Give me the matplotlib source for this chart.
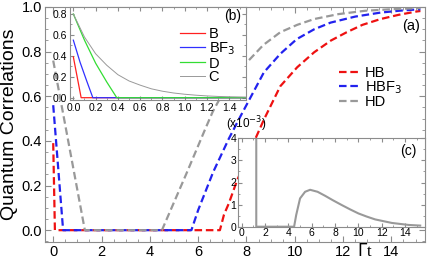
import numpy as np
import matplotlib
matplotlib.use('Agg')
from matplotlib import pyplot as plt
from matplotlib.ticker import MultipleLocator

plt.rcParams['font.family'] = ['Liberation Sans', 'DejaVu Sans']

# main panel (a)
hb_x = [0, 0.07, 6.9, 7.07, 7.27, 7.6, 8.0, 8.72, 9.4, 10.1, 10.8, 11.5, 12.15, 12.8, 13.55, 14.3, 15.05, 15.2]
hb_y = [0.39, 0, 0, 0.07, 0.12, 0.22, 0.32, 0.495, 0.645, 0.73, 0.797, 0.85, 0.887, 0.92, 0.946, 0.965, 0.98, 0.982]
hbf3_x = [0, 0.41, 5.72, 6.0, 6.62, 7.27, 7.75, 8.72, 9.4, 10.08, 10.8, 11.48, 12.5, 13.55, 14.4, 15.2]
hbf3_y = [0.56, 0, 0, 0.09, 0.26, 0.41, 0.51, 0.707, 0.79, 0.856, 0.9, 0.93, 0.957, 0.975, 0.984, 0.99]
hd_x = [0, 1.31, 4.5, 5.5, 6.28, 6.6, 7.2, 8.0, 8.7, 9.4, 10.1, 10.8, 11.8, 12.9, 14.0, 15.2]
hd_y = [0.76, 0, 0, 0.25, 0.45, 0.53, 0.65, 0.75, 0.83, 0.887, 0.92, 0.946, 0.968, 0.983, 0.99, 0.995]

# inset (b)
b_x = [0, 0.07, 1.55]
b_y = [0.39, 0, 0]
bf3_x = [0, 0.06, 0.12, 0.175, 1.55]
bf3_y = [0.55, 0.34, 0.16, 0, 0]
d_x = [0, 0.1, 0.2, 0.3, 0.39, 1.55]
d_y = [0.8, 0.55, 0.33, 0.15, 0, 0]
c_x = [0, 0.1, 0.2, 0.3, 0.4, 0.5, 0.6, 0.7, 0.8, 0.9, 1.0, 1.1, 1.2, 1.3, 1.4, 1.55]
c_y = [0.8, 0.58, 0.42, 0.31, 0.22, 0.16, 0.12, 0.085, 0.062, 0.045, 0.033, 0.024, 0.017, 0.012, 0.009, 0.006]

# inset (c), units of 1e-3
diff_x = [1.25, 1.25, 4.49, 4.67, 5.0, 5.43, 5.86, 6.5, 7.14, 7.8, 8.57, 9.3, 10.0, 10.7, 11.43, 12.86, 14.29, 15.29]
diff_y = [5, 0, 0, 0.53, 1.28, 1.58, 1.67, 1.58, 1.40, 1.2, 0.98, 0.78, 0.60, 0.46, 0.33, 0.17, 0.08, 0.05]

W, H = 428, 262
GRAY = '#8c8c8c'


def box(l, t, r, b):
    return [l / W, 1 - b / H, (r - l) / W, (b - t) / H]


def style(ax, size, major=4, minor=2):
    for s in ax.spines.values():
        s.set_color(GRAY)
        s.set_linewidth(0.8)
    ax.tick_params(which='both', direction='in', top=True, right=True,
                   color=GRAY, labelsize=size, pad=2)
    ax.tick_params(which='major', length=major)
    ax.tick_params(which='minor', length=minor)


def main():
    fig = plt.figure(figsize=(4.28, 2.62), dpi=100)

    ax = fig.add_axes(box(45, 7, 425, 242))
    dash = (3.4, 1.7)
    ax.plot(hb_x, hb_y, color='#ee1111', lw=1.6, dashes=dash, label='HB')
    ax.plot(hbf3_x, hbf3_y, color='#2222ee', lw=1.6, dashes=dash, label='HBF$_3$')
    ax.plot(hd_x, hd_y, color='#999999', lw=1.6, dashes=dash, label='HD')
    ax.set_xlim(-0.34, 15.39)
    ax.set_ylim(-0.053, 1.0)
    ax.xaxis.set_major_locator(MultipleLocator(2))
    ax.xaxis.set_minor_locator(MultipleLocator(0.5))
    ax.yaxis.set_major_locator(MultipleLocator(0.2))
    ax.yaxis.set_minor_locator(MultipleLocator(0.05))
    ax.yaxis.set_major_formatter(plt.FormatStrFormatter('%.1f'))
    style(ax, 10.5)
    ax.set_ylabel('Quantum Correlations', fontsize=14, labelpad=3)
    ax.text(12.9, -0.095, r'$\Gamma$t', fontsize=12, family='Liberation Serif',
            ha='center', va='center')
    ax.text(0.987, 0.92, '(a)', transform=ax.transAxes, fontsize=10.5, ha='right', va='center')
    ax.legend(loc='upper left', bbox_to_anchor=(0.755, 0.78), frameon=False, fontsize=10.5,
              handlelength=1.5, handletextpad=0.25, labelspacing=-0.05, borderpad=0)

    axb = fig.add_axes(box(70, 7, 246, 100))
    axb.plot(b_x, b_y, color='#ff2020', lw=0.9, label='B')
    axb.plot(bf3_x, bf3_y, color='#3030ff', lw=0.9, label='BF$_3$')
    axb.plot(d_x, d_y, color='#33dd33', lw=0.9, label='D')
    axb.plot(c_x, c_y, color='#999999', lw=0.7, label='C')
    axb.set_xlim(-0.03, 1.55)
    axb.set_ylim(-0.022, 0.867)
    axb.xaxis.set_major_locator(MultipleLocator(0.2))
    axb.xaxis.set_minor_locator(MultipleLocator(0.1))
    axb.yaxis.set_major_locator(MultipleLocator(0.2))
    axb.yaxis.set_minor_locator(MultipleLocator(0.1))
    axb.xaxis.set_major_formatter(plt.FormatStrFormatter('%.1f'))
    axb.yaxis.set_major_formatter(plt.FormatStrFormatter('%.1f'))
    style(axb, 7.5, 3, 1.5)
    axb.text(0.97, 0.9, '(b)', transform=axb.transAxes, fontsize=10, ha='right', va='center')
    axb.legend(loc='upper left', bbox_to_anchor=(0.585, 0.86), frameon=False, fontsize=10.5,
               handlelength=1.7, handletextpad=0.25, labelspacing=-0.05, borderpad=0)

    axc = fig.add_axes(box(237.7, 138.3, 425, 226.7))
    axc.plot(diff_x, diff_y, color='#999999', lw=1.5)
    axc.set_xlim(-0.34, 15.7)
    axc.set_ylim(0, 4)
    axc.xaxis.set_major_locator(MultipleLocator(2))
    axc.xaxis.set_minor_locator(MultipleLocator(1))
    axc.yaxis.set_major_locator(MultipleLocator(1))
    axc.yaxis.set_minor_locator(MultipleLocator(0.5))
    style(axc, 7.5, 3, 1.5)
    axc.tick_params(axis='x', pad=1)
    axc.tick_params(axis='y', pad=1)
    axc.text(0.957, 0.86, '(c)', transform=axc.transAxes, fontsize=10, ha='right', va='center')
    axc.text(-0.06, 1.155, '(x10$^{-3}$)', transform=axc.transAxes, fontsize=8.5,
             ha='left', va='center')

    fig.savefig('out.png', dpi=100)


if __name__ == '__main__':
    main()
